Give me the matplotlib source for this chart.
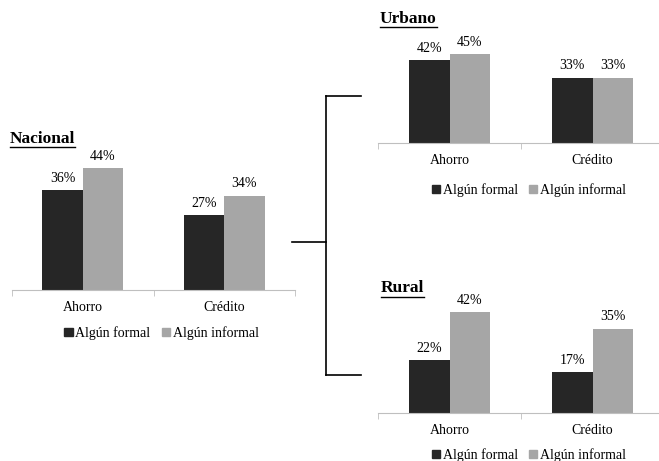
import matplotlib
matplotlib.use("Agg")
import matplotlib.pyplot as plt
from matplotlib.lines import Line2D
from matplotlib.patches import Patch
import numpy as np

# Datos: porcentaje con algún producto formal / informal
categorias = ["Ahorro", "Crédito"]
series = ["Algún formal", "Algún informal"]
nacional_formal = [36, 27]
nacional_informal = [44, 34]
urbano_formal = [42, 33]
urbano_informal = [45, 33]
rural_formal = [22, 17]
rural_informal = [42, 35]

colores = ["#262626", "#a6a6a6"]
W, H = 659, 461

plt.rcParams["font.family"] = ["Liberation Serif", "DejaVu Serif"]
fig = plt.figure(figsize=(W / 100, H / 100), dpi=100)


def px_rect(x0, x1, y_base, alto):
    # rectángulo en pixeles (origen arriba a la izquierda) -> fracción de figura
    return [x0 / W, 1 - y_base / H, (x1 - x0) / W, alto / H]


def panel(rect, formal, informal, titulo, titulo_xy, leyenda_y):
    ax = fig.add_axes(rect)
    x = np.arange(len(categorias))
    ancho = 0.285
    b1 = ax.bar(x - ancho / 2, formal, ancho, color=colores[0])
    b2 = ax.bar(x + ancho / 2, informal, ancho, color=colores[1])
    for barras, vals in ((b1, formal), (b2, informal)):
        for b, v in zip(barras, vals):
            ax.annotate(f"{v}%", (b.get_x() + b.get_width() / 2, v),
                        xytext=(0, 4), textcoords="offset points",
                        ha="center", va="bottom", fontsize=10)
    ax.set_xlim(-0.5, 1.5)
    ax.set_ylim(0, 50)
    for s in ("top", "left", "right"):
        ax.spines[s].set_visible(False)
    ax.spines["bottom"].set_color("#bfbfbf")
    ax.set_yticks([])
    ax.set_xticks(x)
    ax.set_xticklabels(categorias, fontsize=10)
    ax.tick_params(axis="x", which="major", length=0, pad=8)
    ax.set_xticks([-0.5, 0.5, 1.5], minor=True)
    ax.tick_params(axis="x", which="minor", length=4, color="#bfbfbf")

    handles = [Patch(color=c) for c in colores]
    centro = rect[0] + rect[2] / 2
    fig.legend(handles, series, loc="center",
               bbox_to_anchor=(centro + 8 / W, 1 - leyenda_y / H),
               ncol=2, frameon=False, fontsize=10, handlelength=0.6,
               handleheight=0.6, handletextpad=0.2, columnspacing=0.8)

    # título subrayado
    t = fig.text(titulo_xy[0] / W, 1 - titulo_xy[1] / H, titulo,
                 fontsize=12.5, fontweight="bold", ha="left", va="baseline")
    r = fig.canvas.get_renderer()
    bb = t.get_window_extent(renderer=r)
    y_sub = bb.y0 - 0.5
    fig.add_artist(Line2D([bb.x0 / W, bb.x1 / W], [y_sub / H, y_sub / H],
                          transform=fig.transFigure, color="black", lw=1.0))
    return ax


panel(px_rect(12, 295, 290, 138.5), nacional_formal, nacional_informal,
      "Nacional", (10, 143), 333)
panel(px_rect(378, 664, 143, 98.5), urbano_formal, urbano_informal,
      "Urbano", (380, 23), 190)
panel(px_rect(378, 664, 413, 120), rural_formal, rural_informal,
      "Rural", (381, 292), 455)

# llave que une el panel nacional con urbano y rural
segmentos = [((326, 96), (326, 375)), ((326, 96), (361, 96)),
             ((326, 375), (361, 375)), ((292, 242), (326, 242))]
for (xa, ya), (xb, yb) in segmentos:
    fig.add_artist(Line2D([xa / W, xb / W], [1 - ya / H, 1 - yb / H],
                          transform=fig.transFigure, color="black", lw=1.2))

fig.savefig("out.png", dpi=100)
